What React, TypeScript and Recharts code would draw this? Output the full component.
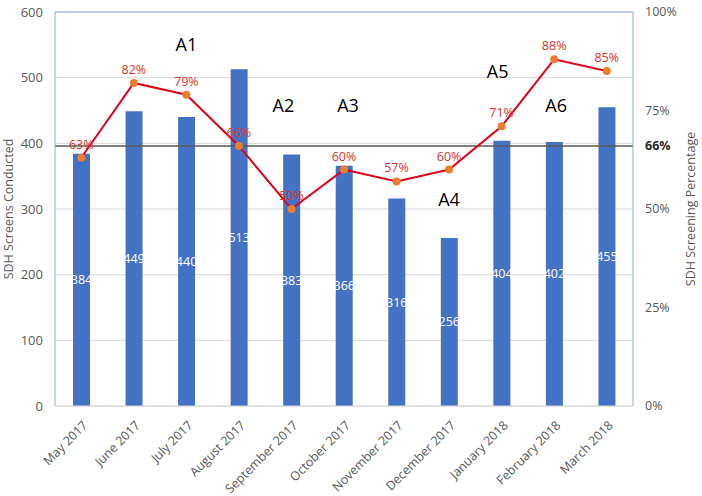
import {
  ComposedChart,
  Bar,
  Line,
  XAxis,
  YAxis,
  CartesianGrid,
  ReferenceLine,
  ReferenceDot,
  LabelList,
} from "recharts";

const MONTHS = [
  "May 2017",
  "June 2017",
  "July 2017",
  "August 2017",
  "September 2017",
  "October 2017",
  "November 2017",
  "December 2017",
  "January 2018",
  "February 2018",
  "March 2018",
];
const SCREENS = [384, 449, 440, 513, 383, 366, 316, 256, 404, 402, 455];
const PERCENT = [63, 82, 79, 66, 50, 60, 57, 60, 71, 88, 85];

const LEFT_TICKS = [0, 100, 200, 300, 400, 500, 600];
const RIGHT_TICKS = [0, 25, 50, 66, 75, 100];
const TARGET = 66;

// phase markers placed on the screens scale
const ANNOTATIONS = [
  { label: "A1", month: "July 2017", value: 550, dx: 0 },
  { label: "A2", month: "September 2017", value: 458, dx: -8 },
  { label: "A3", month: "October 2017", value: 458, dx: 4 },
  { label: "A4", month: "December 2017", value: 315, dx: 0 },
  { label: "A5", month: "January 2018", value: 509, dx: -4 },
  { label: "A6", month: "February 2018", value: 458, dx: 2 },
];

const data = MONTHS.map((month, i) => ({
  month,
  screens: SCREENS[i],
  pct: PERCENT[i],
}));

const FONT = "'Open Sans', 'Noto Sans', sans-serif";
const FRAME = "#8FAADC";
const GRID = "#D9D9D9";
const TEXT = "#595959";

function MonthTick({ x, y, payload }: any) {
  return (
    <g transform={`translate(${x + 4},${y + 9})`}>
      <text
        transform="rotate(-45)"
        textAnchor="end"
        dy="0.35em"
        fontSize={12.5}
        fontFamily={FONT}
        fill={TEXT}
      >
        {payload.value}
      </text>
    </g>
  );
}

function PctTick({ x, y, payload }: any) {
  const bold = payload.value === TARGET;
  return (
    <text
      x={x}
      y={y}
      dy="0.35em"
      textAnchor="start"
      fontSize={12.5}
      fontFamily={FONT}
      fontWeight={bold ? 700 : 400}
      fill={bold ? "#262626" : TEXT}
    >
      {payload.value}%
    </text>
  );
}

export default function App() {
  return (
    <div style={{ position: "absolute", left: 0, top: 0, background: "#fff" }}>
      <ComposedChart
        width={702}
        height={496}
        data={data}
        margin={{ top: 12, right: 0, bottom: 0, left: 0 }}
        style={{ fontFamily: FONT }}
      >
        <CartesianGrid yAxisId="left" vertical={false} stroke={GRID} />
        <XAxis
          dataKey="month"
          interval={0}
          height={90}
          tickLine={false}
          axisLine={{ stroke: GRID }}
          tick={<MonthTick />}
        />
        <YAxis
          yAxisId="left"
          width={55}
          domain={[0, 600]}
          ticks={LEFT_TICKS}
          tickSize={0}
          tickMargin={12}
          axisLine={{ stroke: FRAME }}
          tick={{ fontSize: 13, fill: TEXT, fontFamily: FONT }}
          label={{
            value: "SDH Screens Conducted",
            angle: -90,
            position: "insideLeft",
            dx: 4,
            style: { textAnchor: "middle", fontSize: 12.5, fill: TEXT, fontFamily: FONT },
          }}
        />
        <YAxis
          yAxisId="right"
          orientation="right"
          width={69}
          domain={[0, 100]}
          ticks={RIGHT_TICKS}
          tickSize={0}
          tickMargin={12}
          axisLine={{ stroke: FRAME }}
          tick={<PctTick />}
          label={{
            value: "SDH Screening Percentage",
            angle: -90,
            position: "insideRight",
            dx: -6,
            style: { textAnchor: "middle", fontSize: 12.5, fill: TEXT, fontFamily: FONT },
          }}
        />
        <ReferenceLine yAxisId="left" y={600} stroke={FRAME} />
        <Bar
          yAxisId="left"
          dataKey="screens"
          fill="#4472C4"
          barSize={17}
          isAnimationActive={false}
        >
          <LabelList
            dataKey="screens"
            position="center"
            fill="#fff"
            fontSize={12.5}
            fontFamily={FONT}
          />
        </Bar>
        <ReferenceLine
          yAxisId="right"
          y={TARGET}
          stroke="#595959"
          strokeWidth={1.5}
        />
        <Line
          yAxisId="right"
          dataKey="pct"
          stroke="#E0001B"
          strokeWidth={2}
          dot={{ r: 4, fill: "#ED7D31", stroke: "#ED7D31", strokeWidth: 0 }}
          isAnimationActive={false}
        >
          <LabelList
            dataKey="pct"
            position="top"
            offset={9}
            fill="#D9352B"
            fontSize={12.5}
            fontFamily={FONT}
            formatter={(v: any) => `${v}%`}
          />
        </Line>
        {ANNOTATIONS.map((a) => (
          <ReferenceDot
            key={a.label}
            yAxisId="left"
            x={a.month}
            y={a.value}
            r={0}
            fill="none"
            stroke="none"
            label={{
              value: a.label,
              position: "center",
              dx: a.dx,
              fontSize: 18,
              fill: "#000",
              fontFamily: FONT,
            }}
          />
        ))}
      </ComposedChart>
    </div>
  );
}
